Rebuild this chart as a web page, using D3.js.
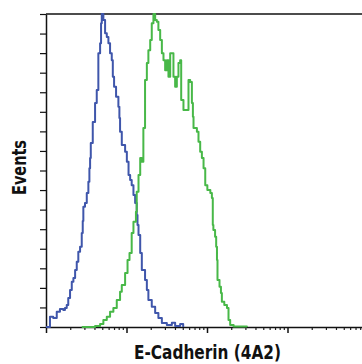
<!DOCTYPE html>
<html>
<head>
<meta charset="utf-8">
<script src="https://cdn.jsdelivr.net/npm/d3@7"></script>
<style>
  body { margin: 0; background: #fff; }
  svg { display: block; }
  .title { font-family: "Liberation Sans Narrow", "DejaVu Sans Condensed", "Liberation Sans", sans-serif; font-weight: bold; fill: #111; }
</style>
</head>
<body>
<div id="chart"></div>
<script>
// Isotype control (blue) - fluorescence intensity vs events
const controlIntensity = [1.00, 1.12, 1.23, 1.36, 1.49, 1.64, 1.72, 1.81, 1.89, 1.99, 2.09, 2.19, 2.30, 2.41, 2.52, 2.65, 2.78, 2.86, 2.91, 3.05, 3.21, 3.36, 3.46, 3.53, 3.60, 3.81, 4.07, 4.27, 4.47, 4.70, 4.83, 4.93, 5.16, 5.42, 5.69, 5.96, 6.25, 6.56, 6.76, 7.01, 7.42, 7.93, 8.16, 8.32, 8.74, 9.61, 10.1, 10.6, 11.1, 11.6, 12.2, 12.8, 13.4, 13.7, 14.1, 14.8, 15.5, 17.0, 17.9, 18.7, 20.6, 22.7, 24.9, 27.5, 31.7, 36.6, 40.2, 46.4, 50.6];
const controlEvents = [0, 5.3, 4.6, 7.8, 9.2, 8.7, 9.7, 11.2, 14.8, 18.9, 23.1, 25.0, 29.1, 33.4, 38.5, 41.0, 48.0, 54.2, 61.5, 63.4, 68.5, 74.2, 81.2, 86.4, 94.0, 104.8, 114.5, 121.1, 140.0, 145.1, 155.3, 160, 156.9, 150.2, 148.3, 145.1, 140.0, 136.4, 127.9, 122.8, 117.7, 112.6, 106.8, 99.8, 93.0, 89.6, 84.5, 77.7, 75.1, 72.5, 67.5, 63.4, 57.2, 52.1, 47.0, 37.8, 29.1, 24.0, 18.9, 13.8, 10.4, 7.2, 4.6, 2.0, 1.0, 2.2, 0.5, 1.5, 0];

// E-Cadherin (4A2) stained (green)
const cadherinIntensity = [2.78, 4.07, 4.70, 5.16, 5.69, 6.25, 6.87, 7.57, 8.32, 8.74, 9.61, 10.3, 10.9, 11.6, 12.2, 12.8, 13.1, 13.4, 14.1, 14.8, 15.5, 16.2, 17.0, 17.9, 18.7, 19.7, 20.6, 21.6, 22.7, 23.8, 24.9, 26.2, 27.5, 28.8, 30.2, 31.7, 33.2, 34.9, 36.6, 38.3, 40.2, 42.2, 44.2, 46.4, 47.8, 51.0, 56.3, 58.9, 61.8, 64.9, 66.8, 68.0, 74.9, 78.4, 82.3, 86.4, 90.6, 95.1, 101, 110, 115, 118, 120, 126, 130, 133, 135, 143, 149, 153, 164, 177, 185, 194, 214, 313];
const cadherinEvents = [0, 0.5, 1.5, 3.6, 5.3, 7.8, 9.7, 13.8, 18.0, 21.5, 27.6, 34.2, 37.8, 48.0, 53.8, 53.8, 58.9, 69.1, 77.7, 86.4, 84.5, 101.7, 126.2, 134.9, 141.5, 146.7, 155.3, 160, 156.9, 156.0, 151.8, 146.7, 140.0, 136.4, 131.3, 136.4, 127.9, 140.0, 140.0, 127.9, 122.8, 127.9, 134.9, 136.4, 116.0, 110.9, 110.9, 126.2, 125.3, 114.5, 107.5, 101.7, 99.8, 94.7, 89.6, 86.4, 81.2, 72.5, 70.0, 68.5, 65.9, 52.1, 49.6, 46.1, 41.0, 34.2, 24.0, 20.6, 17.4, 12.9, 11.2, 9.7, 3.6, 1.0, 0.2, 0];

const xDomain = [1, 10000];
const yDomain = [0, 160];
const yTickValues = d3.range(0, 161, 10);

const width = 362, height = 364;
const margin = {top: 14, right: -6, bottom: 37, left: 46};

const svg = d3.select('#chart').append('svg')
    .attr('width', width)
    .attr('height', height);

const x = d3.scaleLog()
    .domain(xDomain)
    .range([margin.left, width - margin.right]);

const y = d3.scaleLinear()
    .domain(yDomain)
    .range([height - margin.bottom, margin.top]);

// minor ticks on the log axis
const minorTicks = x.ticks().filter(v => Math.log10(v) % 1 !== 0);
const majorTicks = x.ticks().filter(v => Math.log10(v) % 1 === 0);

const axisY = height - margin.bottom;

// x axis: minor ticks
svg.append('g')
    .attr('transform', `translate(0,${axisY})`)
    .call(d3.axisBottom(x).tickValues(minorTicks).tickSize(3).tickFormat('').tickSizeOuter(0))
    .call(g => g.select('.domain').remove())
    .selectAll('line').attr('stroke', '#222').attr('stroke-width', 1.2);

// x axis: major ticks + line
svg.append('g')
    .attr('transform', `translate(0,${axisY})`)
    .call(d3.axisBottom(x).tickValues(majorTicks).tickSize(6).tickFormat('').tickSizeOuter(0))
    .call(g => g.select('.domain').attr('stroke', '#111').attr('stroke-width', 1.5))
    .selectAll('line').attr('stroke', '#111').attr('stroke-width', 1.5);

// y axis
svg.append('g')
    .attr('transform', `translate(${margin.left},0)`)
    .call(d3.axisLeft(y).tickValues(yTickValues).tickSize(6).tickFormat('').tickSizeOuter(0))
    .call(g => g.select('.domain').attr('stroke', '#111').attr('stroke-width', 1.5))
    .selectAll('line').attr('stroke', '#111').attr('stroke-width', 1.2);

// top frame
svg.append('line')
    .attr('x1', margin.left).attr('x2', width)
    .attr('y1', y(yDomain[1])).attr('y2', y(yDomain[1]))
    .attr('stroke', '#111').attr('stroke-width', 1.5);

const line = d3.line()
    .x(d => x(d[0]))
    .y(d => y(d[1]))
    .curve(d3.curveStepAfter);

svg.append('path')
    .datum(d3.zip(controlIntensity, controlEvents))
    .attr('fill', 'none')
    .attr('stroke', '#3f56ab')
    .attr('stroke-width', 2)
    .attr('stroke-linejoin', 'round')
    .attr('d', line);

svg.append('path')
    .datum(d3.zip(cadherinIntensity, cadherinEvents))
    .attr('fill', 'none')
    .attr('stroke', '#48b848')
    .attr('stroke-width', 2)
    .attr('stroke-linejoin', 'round')
    .attr('d', line);

// axis titles (condensed look via textLength)
svg.append('text')
    .attr('class', 'title')
    .attr('x', 134).attr('y', 359)
    .attr('textLength', 147)
    .attr('lengthAdjust', 'spacingAndGlyphs')
    .style('font-size', '20px')
    .text('E-Cadherin (4A2)');

svg.append('text')
    .attr('class', 'title')
    .attr('transform', 'translate(26,195) rotate(-90)')
    .attr('textLength', 55)
    .attr('lengthAdjust', 'spacingAndGlyphs')
    .style('font-size', '19px')
    .text('Events');
</script>
</body>
</html>
